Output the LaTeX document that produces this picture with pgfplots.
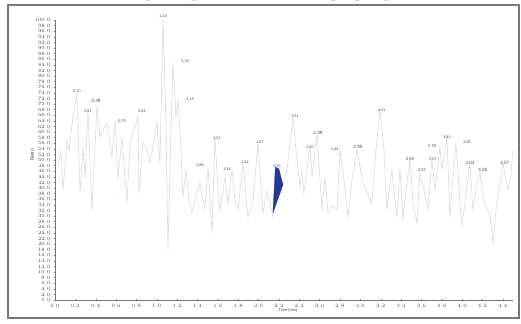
\documentclass[border=0pt]{standalone}
\usepackage{pgfplots}
\pgfplotsset{compat=1.18}
\usepackage{fontspec}
\setmainfont{Liberation Sans}
\newfontfamily\titlefont{Liberation Serif}

\definecolor{trace}{RGB}{212,217,232}
\definecolor{fillblue}{RGB}{36,56,150}
\definecolor{labgray}{RGB}{70,70,70}
\definecolor{axgray}{RGB}{120,120,120}

\pgfplotstableread{
x y
0.029 48.2
0.059 53.6
0.079 39.3
0.118 57.1
0.138 52.9
0.177 66.1
0.216 73.9
0.246 38.2
0.275 54.6
0.295 43.9
0.324 67.9
0.363 32.1
0.413 69.6
0.442 58.2
0.481 61.4
0.511 63.2
0.560 51.1
0.589 64.3
0.619 42.9
0.658 58.2
0.707 34.6
0.737 56.1
0.776 60.7
0.815 65.7
0.825 38.2
0.864 56.1
0.904 53.6
0.933 48.9
1.002 63.2
1.031 48.9
1.061 100.0
1.090 64.3
1.110 17.9
1.139 60.7
1.159 84.6
1.189 65.4
1.208 71.4
1.238 53.6
1.257 36.8
1.287 46.4
1.316 35.7
1.346 31.1
1.385 37.5
1.424 41.8
1.473 32.1
1.503 47.5
1.542 23.9
1.572 58.2
1.601 39.3
1.621 32.1
1.670 43.9
1.699 34.6
1.739 46.4
1.768 35.7
1.798 32.1
1.847 48.9
1.896 29.6
1.945 34.6
1.994 56.1
2.043 31.1
2.083 39.3
2.141 29.6
2.171 46.4
2.240 41.1
2.279 46.4
2.338 65.4
2.377 50.0
2.407 40.4
2.426 46.4
2.446 38.2
2.505 54.6
2.525 43.9
2.574 59.6
2.623 32.1
2.652 43.9
2.682 31.1
2.731 33.9
2.770 32.1
2.800 53.6
2.839 42.9
2.878 29.6
2.917 42.9
2.967 53.6
3.026 41.8
3.075 37.5
3.114 34.6
3.153 53.6
3.193 67.9
3.232 53.6
3.261 32.1
3.310 46.4
3.360 29.6
3.389 47.5
3.418 28.6
3.448 39.3
3.487 50.0
3.517 34.6
3.556 27.5
3.585 45.4
3.625 39.3
3.664 32.1
3.703 50.0
3.733 39.3
3.782 54.6
3.802 46.4
3.851 58.2
3.880 29.6
3.939 56.1
3.978 35.7
3.998 26.1
4.037 37.5
4.077 48.9
4.106 32.1
4.145 41.1
4.175 45.4
4.224 33.9
4.273 30.4
4.303 20.4
4.342 35.7
4.371 41.1
4.401 48.9
4.430 42.9
4.450 39.3
4.479 44.6
4.499 53.6
}\ratiotrace

\begin{document}
\begin{tikzpicture}[x=1bp,y=1bp]
\useasboundingbox (0,0) rectangle (521,323);

% heading: only its descenders reach below the top edge
\node[anchor=base, font=\titlefont\bfseries\fontsize{15}{15}\selectfont] at (250,325.8)
  {Ratio plot of peak areas in QC sample group};

% outer frame
\draw[axgray, line width=1.6bp] (8,5) rectangle (519,318);

\begin{axis}[
  at={(55bp,23bp)}, anchor=south west,
  scale only axis, width=458bp, height=280bp,
  xmin=0, xmax=4.5, ymin=0, ymax=100,
  axis x line=bottom, axis y line=left,
  axis line style={axgray, line width=0.5pt, -},
  xtick={0,0.2,...,4.41},
  ytick={0,2,...,100},
  major tick length=2pt,
  tick style={axgray, line width=0.4pt},
  tick label style={font=\fontsize{3.6}{3.6}\selectfont, text=labgray},
  xticklabel style={/pgf/number format/.cd, fixed, fixed zerofill, precision=1},
  yticklabel style={/pgf/number format/.cd, fixed, fixed zerofill, precision=1},
  clip=false,
]
\addplot[color=trace, line width=0.6pt] table[x=x,y=y] {\ratiotrace};

\addplot[fill=fillblue, draw=fillblue, line width=0.3pt] coordinates
  {(2.141,31.1) (2.165,47.5) (2.200,46.8) (2.240,41.1) (2.141,31.1)};

\begin{scope}[every node/.style={font=\fontsize{3.8}{3.8}\selectfont, text=labgray, inner sep=0pt}]
\node at (axis cs:0.216,74.6) {0.70};
\node at (axis cs:0.324,67.5) {0.51};
\node[font=\fontsize{4.6}{4.6}\selectfont] at (axis cs:0.403,71.1) {0.39};
\node at (axis cs:0.658,63.9) {0.75};
\node at (axis cs:0.855,67.5) {0.04};
\node at (axis cs:1.061,101.4) {1.24};
\node at (axis cs:1.277,85.4) {3.18};
\node at (axis cs:1.326,71.8) {1.18};
\node at (axis cs:1.591,57.9) {1.01};
\node at (axis cs:1.424,48.2) {1.86};
\node at (axis cs:1.690,46.8) {1.34};
\node at (axis cs:1.866,49.3) {1.82};
\node at (axis cs:2.014,56.4) {1.67};
\node at (axis cs:2.181,47.9) {0.75};
\node at (axis cs:2.358,65.7) {7.51};
\node at (axis cs:2.505,54.6) {2.50};
\node[font=\fontsize{4.6}{4.6}\selectfont] at (axis cs:2.583,59.6) {2.39};
\node at (axis cs:2.750,53.9) {1.44};
\node[font=\fontsize{4.6}{4.6}\selectfont] at (axis cs:2.976,54.6) {2.95};
\node at (axis cs:3.212,67.9) {4.51};
\node[font=\fontsize{4.2}{4.2}\selectfont] at (axis cs:3.487,50.4) {2.59};
\node[font=\fontsize{4.2}{4.2}\selectfont] at (axis cs:3.605,46.4) {2.57};
\node[font=\fontsize{4.2}{4.2}\selectfont] at (axis cs:3.703,55.0) {2.78};
\node at (axis cs:3.713,50.4) {3.07};
\node at (axis cs:3.851,58.2) {3.81};
\node at (axis cs:4.047,56.4) {3.00};
\node[font=\fontsize{4.6}{4.6}\selectfont] at (axis cs:4.077,48.9) {4.04};
\node[font=\fontsize{4.6}{4.6}\selectfont] at (axis cs:4.204,46.4) {4.05};
\node[font=\fontsize{4.6}{4.6}\selectfont] at (axis cs:4.420,48.9) {4.57};
\end{scope}
\end{axis}

% axis titles
\node[rotate=90, font=\fontsize{5}{5}\selectfont, text=labgray] at (32,168) {Ratio};
\node[font=\fontsize{4}{4}\selectfont, text=labgray] at (288,12.5) {Time (min)};
\end{tikzpicture}
\end{document}
